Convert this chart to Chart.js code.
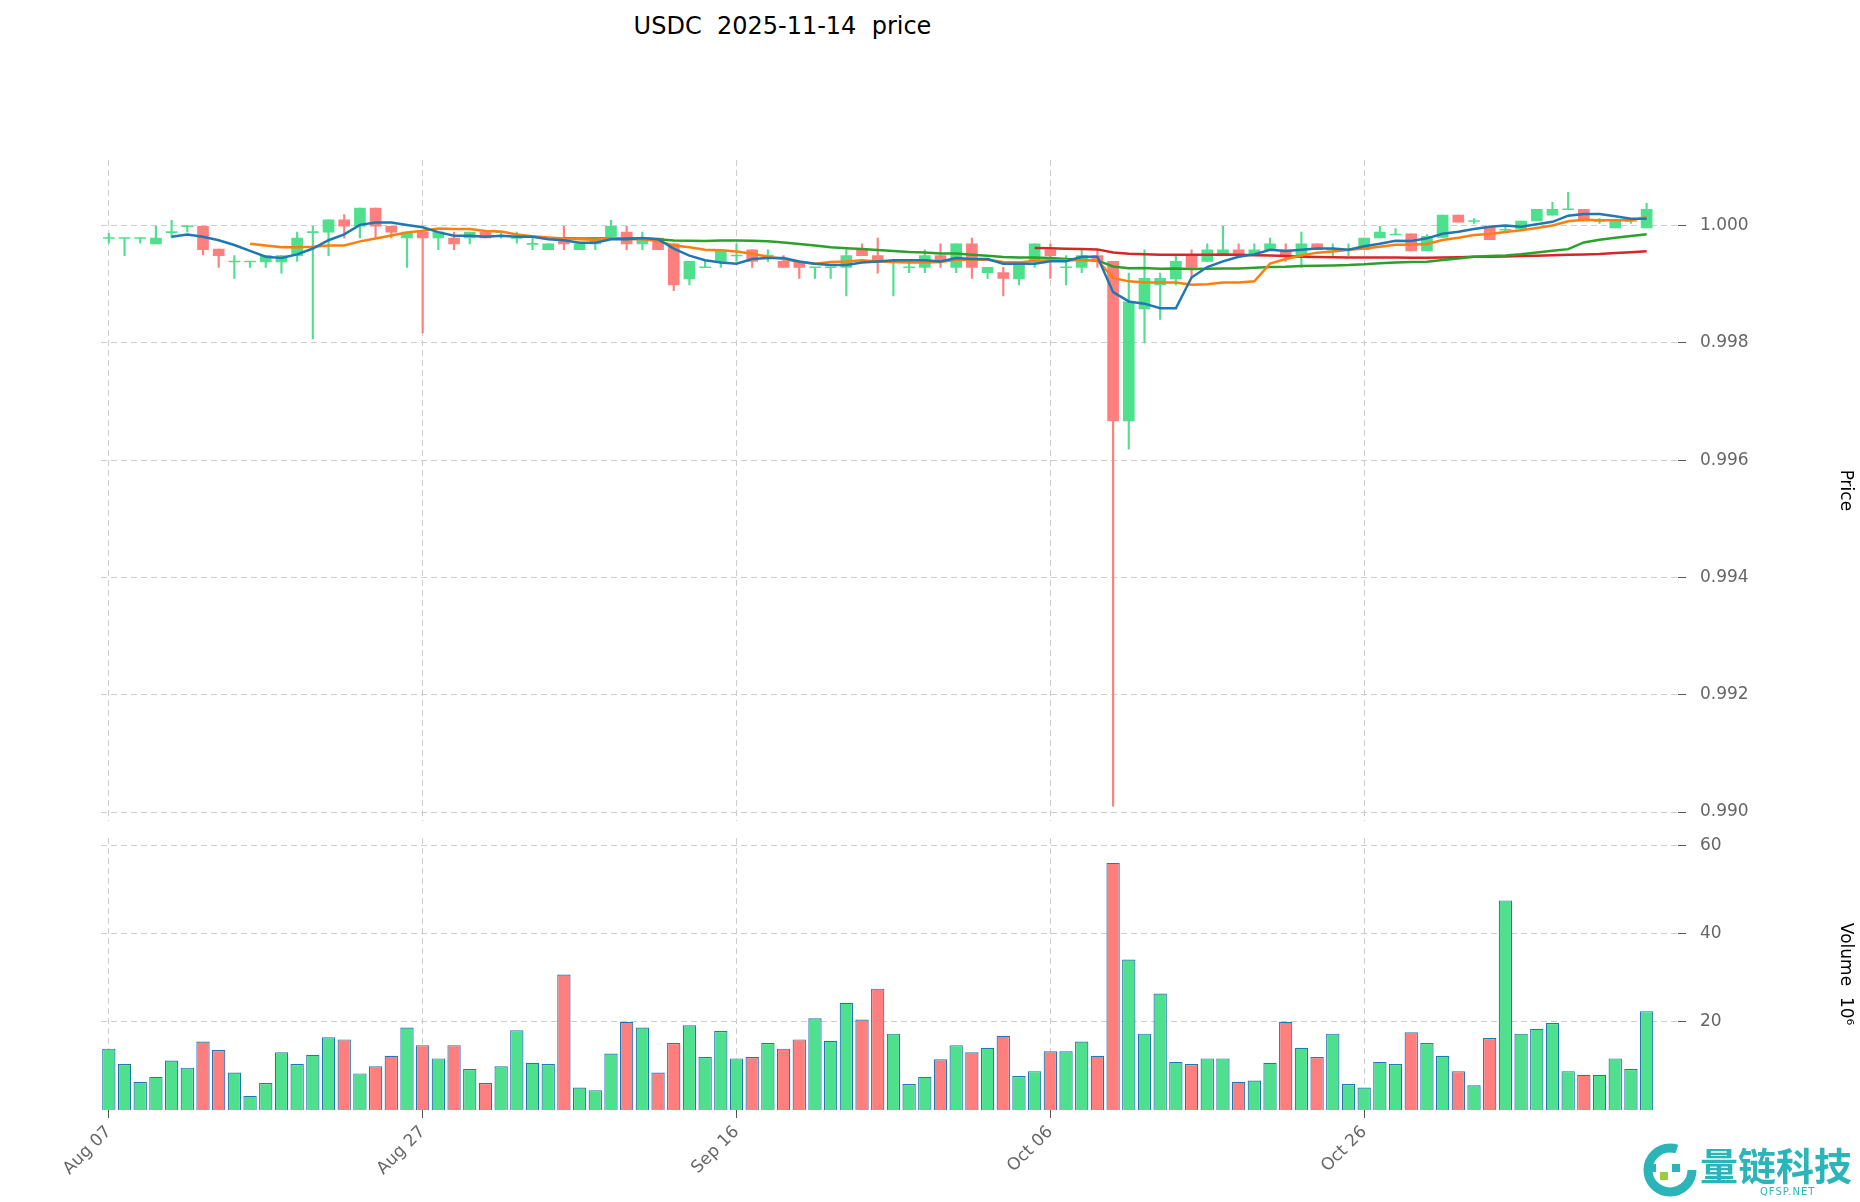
<!DOCTYPE html>
<html><head><meta charset="utf-8">
<script src="https://cdn.jsdelivr.net/npm/chart.js@4/dist/chart.umd.min.js"></script>
<style>
body{margin:0;width:1860px;height:1202px;background:#fff;overflow:hidden;font-family:"DejaVu Sans",sans-serif}
#t{position:absolute;left:0;width:1565px;top:12px;text-align:center;font-size:24px;color:#000;white-space:pre}
#c1{position:absolute;left:0;top:0}
#c2{position:absolute;left:0;top:814px}
#logo{position:absolute;left:1640px;top:1140px;width:220px;height:60px}
</style></head><body>
<div id="t">USDC  2025-11-14  price</div>
<canvas id="c1" width="1860" height="845"></canvas>
<canvas id="c2" width="1860" height="388"></canvas>
<div id="logo">
<svg width="60" height="60" style="position:absolute;left:0;top:2px"><circle cx="30" cy="28" r="22" fill="none" stroke="#2bb5b8" stroke-width="9" stroke-dasharray="110 30"/><rect x="8" y="22" width="8" height="8" fill="#2bb5b8"/><rect x="20" y="30" width="8" height="8" fill="#9ccc3c"/><rect x="32" y="22" width="8" height="8" fill="#2bb5b8"/></svg>
<div style="position:absolute;left:60px;top:0;font-family:'Noto Sans CJK SC';font-size:38px;color:#2bb5b8;font-weight:bold;line-height:48px;white-space:nowrap">量链科技</div>
<div style="position:absolute;left:120px;top:46px;font-size:10px;color:#2bb5b8;letter-spacing:1px">QFSP.NET</div>
</div>
<script>
const tickLabels = ["Aug 07","Aug 27","Sep 16","Oct 06","Oct 26"];
const opens = [0.99979,0.99979,0.99979,0.99969,0.99989,0.99999,0.99999,0.9996,0.99939,0.99939,
0.99938,0.99938,0.99949,0.99989,0.99989,1.0001,0.99999,1.0003,0.99999,0.99979,
0.99989,0.99979,0.99979,0.99979,0.99989,0.99989,0.99979,0.99969,0.99959,0.99979,
0.99959,0.99969,0.99979,0.99989,0.99969,0.99979,0.99969,0.99909,0.99929,0.99939,
0.99949,0.99959,0.99949,0.99939,0.99939,0.99929,0.99929,0.99929,0.99959,0.99949,
0.99939,0.99929,0.99929,0.99949,0.99929,0.99969,0.9992,0.9992,0.99909,0.99939,
0.99959,0.99929,0.99929,0.99949,0.99939,0.99667,0.99858,0.99899,0.99909,0.99949,
0.99939,0.99949,0.99959,0.99949,0.99959,0.99959,0.99949,0.99969,0.99959,0.99959,
0.99959,0.99979,0.99985,0.99986,0.99957,0.9998,1.00018,1.00008,0.99998,0.99993,
0.99995,1.00008,1.00018,1.00028,1.00028,1.00008,0.99996,1.00008,0.99996];
const highs = [0.99987,0.99979,0.99979,0.99999,1.00009,1.0,0.99999,0.9996,0.99949,0.99939,
0.99949,0.99949,0.99989,0.99999,1.0001,1.00019,1.0003,1.0003,0.99999,0.99989,
0.99989,0.99989,0.99989,0.99989,0.99989,0.99989,0.99989,0.99979,0.99969,0.99999,
0.99969,0.99979,1.00009,0.99999,0.99989,0.99979,0.99969,0.99939,0.99939,0.99959,
0.99969,0.99959,0.99959,0.99949,0.99939,0.99929,0.99929,0.99959,0.99969,0.99979,
0.99939,0.99939,0.99959,0.99969,0.99969,0.99979,0.99929,0.99929,0.99939,0.99969,
0.99969,0.99949,0.99959,0.99959,0.99939,0.99919,0.99959,0.99919,0.99949,0.99959,
0.99969,0.99999,0.99969,0.99969,0.99979,0.99969,0.99989,0.99969,0.99969,0.99969,
0.99979,0.99999,0.99995,0.99986,0.99985,1.00018,1.00018,1.00012,0.99998,1.0,
1.00008,1.00028,1.0004,1.00057,1.00028,1.00012,1.00008,1.00012,1.00038];
const lows = [0.9997,0.99949,0.9997,0.99969,0.99979,0.99989,0.9995,0.99929,0.9991,0.99929,
0.99929,0.99919,0.99939,0.99807,0.99949,0.99979,0.99979,0.99979,0.99979,0.99929,
0.99817,0.99959,0.99959,0.99969,0.99979,0.99979,0.9997,0.99959,0.99959,0.99959,
0.99959,0.99959,0.99979,0.99959,0.99959,0.99959,0.99889,0.99899,0.99929,0.99929,
0.99939,0.99929,0.99939,0.99929,0.9991,0.9991,0.9991,0.9988,0.99949,0.99919,
0.9988,0.9992,0.9992,0.99929,0.9992,0.9991,0.9991,0.9988,0.99899,0.99929,
0.9991,0.99899,0.9992,0.99929,0.9901,0.99619,0.998,0.9984,0.99899,0.9991,
0.99939,0.99949,0.99949,0.99949,0.99959,0.99939,0.99929,0.99959,0.99949,0.99949,
0.99959,0.99979,0.99985,0.99957,0.99957,0.9998,1.00006,1.00004,0.99976,0.99988,
0.99993,1.00008,1.00018,1.00028,1.00008,1.00004,0.99996,1.00004,0.99996];
const closes = [0.99979,0.99979,0.99979,0.99979,0.99989,0.99999,0.99959,0.99949,0.99939,0.99939,
0.99949,0.99949,0.99979,0.99989,1.0001,0.99999,1.0003,0.99999,0.99989,0.99989,
0.99979,0.99989,0.99969,0.99989,0.99979,0.99989,0.99979,0.99969,0.99969,0.99969,
0.99969,0.99979,0.99999,0.99969,0.99979,0.99959,0.99899,0.99939,0.99929,0.99959,
0.99949,0.99939,0.99949,0.99929,0.99929,0.99929,0.99929,0.99949,0.99949,0.99939,
0.99939,0.99929,0.99949,0.99939,0.99969,0.99929,0.99929,0.9991,0.99939,0.99969,
0.99949,0.99929,0.99949,0.99939,0.99667,0.9987,0.9991,0.9991,0.99939,0.99929,
0.99959,0.99959,0.99949,0.99959,0.99969,0.99949,0.99969,0.99959,0.99959,0.99959,
0.99979,0.99989,0.99985,0.99957,0.99982,1.00018,1.00006,1.00008,0.99976,0.99993,
1.00008,1.00028,1.00028,1.00028,1.00008,1.00008,1.00008,1.00008,1.00028];
const volumes = [13.9,10.4,6.4,7.5,11.2,9.6,15.5,13.6,8.5,3.2,
6.1,13.1,10.4,12.5,16.5,16,8.3,9.9,12.3,18.7,
14.7,11.7,14.7,9.3,6.1,9.9,18.1,10.7,10.4,30.7,
5.1,4.5,12.8,20,18.7,8.5,15.2,19.2,12,17.9,
11.7,12,15.2,13.9,16,20.8,15.7,24.3,20.5,27.5,
17.3,5.9,7.5,11.5,14.7,13.1,14.1,16.8,7.7,8.8,
13.3,13.3,15.5,12.3,56,34.1,17.3,26.4,10.9,10.4,
11.7,11.7,6.4,6.7,10.7,20,14.1,12,17.3,5.9,
5.1,10.9,10.4,17.6,15.2,12.3,8.8,5.6,16.3,47.5,
17.3,18.4,19.7,8.8,8,8,11.7,9.3,22.4];
const maPeriods = [5,10,30,60];
const maColors = ['#1f77b4','#ff7f0e','#2ca02c','#d62728'];

const UP='#4fe08e', DOWN='#ff7f7f';
const up = closes.map((c,i)=>c>=opens[i]);
const bodies = closes.map((c,i)=>{let a=opens[i],b=c; if(Math.abs(a-b)<0.00001){a-=0.000008;b+=0.000008;} return {x:i,y:[a,b]};});
const wicks = closes.map((c,i)=>({x:i,y:[lows[i],highs[i]]}));
const cols = up.map(u=>u?UP:DOWN);
const maSets = maPeriods.map((p,k)=>({type:'line',data:closes.map((c,i)=>{if(i<p-1)return null;let s=0;for(let j=i-p+1;j<=i;j++)s+=closes[j];return {x:i,y:s/p};}).filter(v=>v),
  borderColor:maColors[k],borderWidth:2.5,pointRadius:0,order:0}));
const F={family:'DejaVu Sans',size:17};
const tickIdx=[0,20,40,60,80];
const DASH={display:false,dash:[6,4]};
const xBase={type:'linear',min:-0.5,max:100,offset:false,afterBuildTicks:s=>{s.ticks=tickIdx.map(v=>({value:v}));},
  grid:{color:'#cccccc',offset:false,drawTicks:true,tickColor:'#555'},border:DASH};
const yRight=(w)=>({afterFit:s=>{s.width=w;}});
Chart.defaults.animation=false;
new Chart(document.getElementById('c1'),{type:'bar',data:{datasets:[
  {data:wicks,backgroundColor:cols,barThickness:1.5,grouped:false,order:2},
  {data:bodies,backgroundColor:cols,barThickness:11,grouped:false,order:1},
  ...maSets]},
 options:{responsive:false,plugins:{legend:{display:false},tooltip:{enabled:false}},
  layout:{padding:{left:101,top:160,bottom:12,right:0}},
  scales:{x:{...xBase,ticks:{display:false},grid:{...xBase.grid,drawTicks:false}},
   y:{position:'right',min:0.98985,max:1.00112,afterBuildTicks:s=>{s.ticks=[0.990,0.992,0.994,0.996,0.998,1.000].map(v=>({value:v}));},
    ticks:{callback:v=>v.toFixed(3),color:'#666',font:F,padding:14},
    grid:{color:'#cccccc',tickColor:'#555',tickLength:8},border:DASH,
    title:{display:true,text:'Price',font:F,color:'#000'},...yRight(182)}}}});
new Chart(document.getElementById('c2'),{type:'bar',data:{datasets:[
  {data:volumes.map((v,i)=>({x:i,y:v})),backgroundColor:cols,borderColor:'#1f77b4',borderWidth:1.2,barPercentage:0.85,categoryPercentage:1}]},
 options:{responsive:false,plugins:{legend:{display:false},tooltip:{enabled:false}},
  layout:{padding:{left:101,top:6,right:0,bottom:0}},
  scales:{x:{...xBase,ticks:{callback:v=>tickLabels[tickIdx.indexOf(v)]||'',color:'#666',font:F,maxRotation:45,minRotation:45,padding:4},afterFit:s=>{s.height=92;}},
   y:{position:'right',min:0,max:61.6,afterBuildTicks:s=>{s.ticks=[20,40,60].map(v=>({value:v}));},
    ticks:{color:'#666',font:F,padding:14},grid:{color:'#cccccc',tickColor:'#555',tickLength:8},border:DASH,
    title:{display:true,text:'Volume  10⁶',font:F,color:'#000'},...yRight(182)}}}});
</script></body></html>
